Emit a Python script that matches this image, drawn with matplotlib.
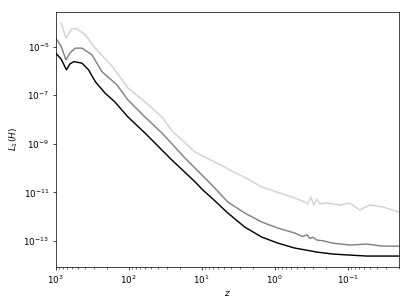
import matplotlib
matplotlib.use("Agg")
import matplotlib.pyplot as plt

# black curve
z_k = [1000, 846, 711, 637, 562, 436, 354, 287, 212, 155, 102.5, 60, 35.2, 25.7,
       12.4, 9.66, 7.28, 4.40, 2.58, 1.51, 0.91, 0.533, 0.266, 0.161, 0.0942,
       0.0551, 0.02]
L_k = [5.35e-6, 3.11e-6, 1.1e-6, 1.94e-6, 2.4e-6, 2.07e-6, 1.09e-6, 3.6e-7, 1.23e-7,
       5.25e-8, 1.26e-8, 2.76e-9, 5.5e-10, 2.13e-10, 2.7e-11, 1.23e-11, 5.77e-12,
       1.39e-12, 3.67e-13, 1.42e-13, 8.0e-14, 5.0e-14, 3.42e-14, 2.83e-14, 2.57e-14,
       2.34e-14, 2.34e-14]

# grey curve
z_g = [1000, 846, 723, 637, 540, 436, 318, 233, 145, 102.5, 60, 35.2, 17.0, 12.4,
       7.28, 4.40, 2.58, 1.51, 0.91, 0.533, 0.42, 0.36, 0.332, 0.30, 0.266, 0.22,
       0.161, 0.0942, 0.0551, 0.0333, 0.02]
L_g = [2.22e-5, 1.07e-5, 2.83e-6, 5.5e-6, 8.6e-6, 8.6e-6, 4.55e-6, 9.3e-7, 2.64e-7,
       6.3e-8, 1.26e-8, 2.76e-9, 2.57e-10, 9.95e-11, 1.99e-11, 3.94e-12, 1.39e-12,
       5.9e-13, 3.34e-13, 2.08e-13, 1.5e-13, 1.75e-13, 1.25e-13, 1.4e-13, 1.07e-13,
       1.0e-13, 8.0e-14, 6.65e-14, 7.3e-14, 6.0e-14, 6.0e-14]

# light grey curve
z_l = [838, 723, 598, 511, 394, 287, 170, 102.5, 60, 35.2, 24.8, 18.7, 12.4, 9.5,
       6.21, 4.40, 3.01, 2.20, 1.51, 0.855, 0.533, 0.389, 0.354, 0.321, 0.292,
       0.266, 0.242, 0.194, 0.129, 0.0942, 0.0687, 0.0501, 0.0333, 0.02]
L_l = [9.2e-5, 2.22e-5, 5.4e-5, 5.4e-5, 3.03e-5, 8.6e-6, 1.6e-6, 1.98e-7, 5.25e-8,
       1.26e-8, 3.03e-9, 1.42e-9, 4.55e-10, 2.96e-10, 1.6e-10, 9.1e-11, 5.1e-11,
       3.18e-11, 1.64e-11, 9.3e-12, 5.8e-12, 3.94e-12, 3.27e-12, 6.3e-12, 2.97e-12,
       5.25e-12, 3.27e-12, 3.59e-12, 2.97e-12, 3.59e-12, 1.85e-12, 2.97e-12,
       2.45e-12, 1.53e-12]

y_ticks = [1e-13, 1e-11, 1e-9, 1e-7, 1e-5]

fig = plt.figure(figsize=(6.4, 4.8), dpi=64.2)
ax = fig.add_axes([0.1355, 0.1331, 0.9708 - 0.1355, 0.962 - 0.1331])

ax.loglog(z_l, L_l, color='0.82', lw=1.6)
ax.loglog(z_g, L_g, color='0.5', lw=1.6)
ax.loglog(z_k, L_k, color='k', lw=1.6)

ax.set_xlim(1000, 0.02)
ax.set_ylim(8.3e-15, 2.77e-4)
ax.set_yticks(y_ticks)
ax.set_xlabel('$z$')
ax.set_ylabel('$L_1(H)$')

fig.savefig('out.png', dpi=64.2)
